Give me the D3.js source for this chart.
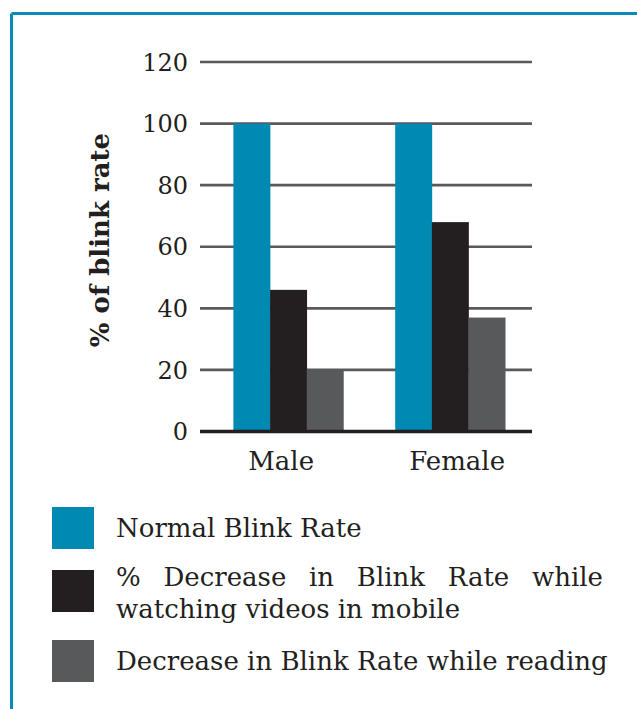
<!DOCTYPE html>
<html>
<head>
<meta charset="utf-8">
<script src="https://cdn.jsdelivr.net/npm/d3@7"></script>
<style>
  html, body { margin: 0; padding: 0; background: #fff; }
  svg { display: block; }
  text { font-family: "DejaVu Serif", serif; fill: #231f20; }
</style>
</head>
<body>
<svg id="chart" width="637" height="709"></svg>
<script>
// ---- data ----
const categories = ["Male", "Female"];
const seriesNames = [
  "Normal Blink Rate",
  "% Decrease in Blink Rate while watching videos in mobile",
  "Decrease in Blink Rate while reading"
];
const normalBlink = [100, 100];
const decreaseMobile = [46, 68];
const decreaseReading = [20, 37];
const yTicks = [0, 20, 40, 60, 80, 100, 120];
const yTitle = "% of blink rate";
const legendLines = [
  ["Normal Blink Rate"],
  ["% Decrease in Blink Rate while", "watching videos in mobile"],
  ["Decrease in Blink Rate while reading"]
];

// ---- style ----
const colors = ["#0089b3", "#231f20", "#58595b"];
const borderColor = "#0a8ab8";

const svg = d3.select("#chart");
const W = 637, H = 709;

// frame
svg.append("line").attr("x1", 11.5).attr("y1", 13.5).attr("x2", W).attr("y2", 13.5)
  .attr("stroke", borderColor).attr("stroke-width", 3);
svg.append("line").attr("x1", 11.5).attr("y1", 13.5).attr("x2", 11.5).attr("y2", H)
  .attr("stroke", borderColor).attr("stroke-width", 3);

const plotLeft = 200, plotRight = 532;
const y = d3.scaleLinear().domain([0, 120]).range([431.5, 62]);
const x0 = d3.scaleBand().domain(categories).range([plotLeft, plotRight])
  .paddingInner(0.32).paddingOuter(0.186).align(0.555);
const keys = d3.range(seriesNames.length);
const x1 = d3.scaleBand().domain(keys).range([0, x0.bandwidth()]).padding(0);
const xLabel = d3.scalePoint().domain(categories).range([plotLeft, plotRight])
  .padding(0.443).align(0.52);

const values = [normalBlink, decreaseMobile, decreaseReading];

// grid lines
const grid = svg.append("g");
grid.selectAll("line").data(yTicks.filter(t => t !== 0)).join("line")
  .attr("x1", plotLeft).attr("x2", plotRight)
  .attr("y1", d => y(d)).attr("y2", d => y(d))
  .attr("stroke", "#5a5a5a").attr("stroke-width", 2.6);

// bars
const groups = svg.append("g").selectAll("g").data(categories).join("g")
  .attr("transform", d => `translate(${x0(d)},0)`);
groups.selectAll("rect").data((c, ci) => keys.map(k => ({ k, v: values[k][ci] }))).join("rect")
  .attr("x", d => x1(d.k))
  .attr("width", x1.bandwidth() + 0.3)
  .attr("y", d => y(d.v))
  .attr("height", d => y(0) - y(d.v))
  .attr("fill", d => colors[d.k]);

// zero axis line
svg.append("line").attr("x1", plotLeft).attr("x2", plotRight)
  .attr("y1", y(0)).attr("y2", y(0))
  .attr("stroke", "#231f20").attr("stroke-width", 3.4);

// y tick labels
svg.append("g").selectAll("text").data(yTicks).join("text")
  .attr("x", 188).attr("y", d => y(d)).attr("dy", "0.36em")
  .attr("text-anchor", "end").style("font-size", "24px")
  .text(d => d);

// x labels
svg.append("g").selectAll("text").data(categories).join("text")
  .attr("x", d => xLabel(d)).attr("y", 470)
  .attr("text-anchor", "middle").style("font-size", "26px")
  .text(d => d);

// y title
svg.append("text")
  .attr("transform", "translate(109,240) rotate(-90)")
  .attr("text-anchor", "middle")
  .style("font-size", "26px").style("font-weight", "bold")
  .text(yTitle);

// legend
const legendX = 52, legendTextX = 116, legendRight = 603;
const legendTops = [507, 570, 640];
const lg = svg.append("g");
legendLines.forEach((lines, i) => {
  const top = legendTops[i];
  lg.append("rect").attr("x", legendX).attr("y", top).attr("width", 42).attr("height", 42)
    .attr("fill", colors[i]);
  const cy = top + 21;
  const baseY = lines.length === 1 ? cy + 9 : cy - 5;
  lines.forEach((ln, j) => {
    const t = lg.append("text").attr("x", legendTextX).attr("y", baseY + j * 32)
      .style("font-size", "26px").text(ln);
    if (lines.length > 1 && j < lines.length - 1) {
      const w = t.node().getComputedTextLength();
      const spaces = (ln.match(/ /g) || []).length;
      if (spaces > 0) t.attr("word-spacing", (legendRight - legendTextX - w) / spaces);
    }
  });
});
</script>
</body>
</html>
